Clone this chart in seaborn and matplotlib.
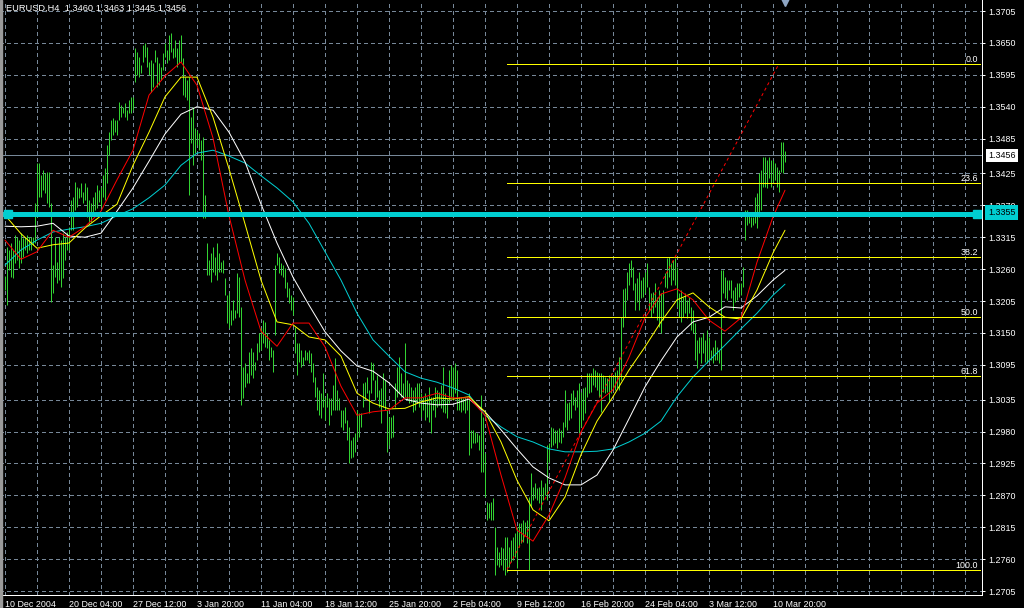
import numpy as np
import seaborn as sns
import matplotlib
matplotlib.use("Agg")
import matplotlib.pyplot as plt
from matplotlib import transforms

symbol = "EURUSD,H4"
last_ohlc = [1.3460, 1.3463, 1.3445, 1.3456]

# H4 bar highs / lows in pips (1/10000), bar 0 = 10 Dec 2004
high_pips = [
    13248, 13298, 13293, 13305, 13293, 13319, 13315, 13310, 13322, 13314,
    13315, 13319, 13315, 13315, 13315, 13374, 13443, 13443, 13422, 13431,
    13426, 13427, 13427, 13374, 13267, 13315, 13272, 13315, 13310, 13322,
    13315, 13324, 13333, 13379, 13384, 13410, 13402, 13400, 13408, 13393,
    13408, 13402, 13379, 13374, 13384, 13393, 13405, 13396, 13402, 13422,
    13434, 13474, 13496, 13517, 13521, 13517, 13517, 13548, 13543, 13540,
    13546, 13534, 13552, 13557, 13557, 13641, 13634, 13626, 13612, 13646,
    13650, 13643, 13617, 13621, 13615, 13638, 13626, 13615, 13608, 13633,
    13650, 13638, 13664, 13667, 13641, 13655, 13641, 13655, 13664, 13624,
    13591, 13586, 13591, 13522, 13540, 13503, 13500, 13495, 13483, 13488,
    13388, 13305, 13276, 13288, 13298, 13281, 13305, 13288, 13272, 13276,
    13245, 13215, 13219, 13189, 13207, 13189, 13253, 13246, 13195, 13091,
    13098, 13081, 13117, 13124, 13117, 13100, 13133, 13150, 13158, 13172,
    13169, 13150, 13138, 13126, 13121, 13267, 13288, 13281, 13271, 13267,
    13262, 13238, 13227, 13215, 13212, 13160, 13133, 13133, 13121, 13108,
    13121, 13117, 13121, 13115, 13098, 13074, 13057, 13052, 13046, 13081,
    13040, 13046, 13038, 13038, 13060, 13107, 13052, 13038, 13017, 13017,
    13022, 13000, 12988, 12965, 12971, 12977, 13017, 13012, 13012, 13064,
    13065, 13074, 13052, 13100, 13098, 13069, 13078, 13052, 13055, 13081,
    13069, 13017, 13005, 13005, 13009, 13064, 13091, 13108, 13081, 13064,
    13133, 13069, 13064, 13057, 13052, 13057, 13064, 13064, 13046, 13040,
    13046, 13040, 13057, 13040, 13040, 13057, 13052, 13048, 13060, 13091,
    13046, 13038, 13086, 13095, 13091, 13098, 13086, 13040, 13040, 13038,
    13040, 13040, 13046, 12983, 12983, 12979, 12977, 12974, 13043, 13005,
    12943, 12859, 12857, 12859, 12865, 12815, 12781, 12772, 12781, 12779,
    12798, 12798, 12781, 12793, 12798, 12805, 12815, 12822, 12822, 12828,
    12824, 12828, 12867, 12909, 12884, 12891, 12883, 12884, 12896, 12884,
    12891, 12957, 12960, 12988, 12986, 12983, 12983, 12986, 12983, 12996,
    13052, 13029, 13031, 13046, 13052, 13040, 13052, 13064, 13048, 13055,
    13057, 13081, 13081, 13081, 13090, 13086, 13083, 13081, 13081, 13078,
    13074, 13072, 13078, 13081, 13074, 13083, 13086, 13108, 13177, 13226,
    13227, 13255, 13271, 13276, 13264, 13236, 13245, 13255, 13241, 13246,
    13255, 13271, 13229, 13219, 13221, 13236, 13212, 13224, 13219, 13224,
    13253, 13279, 13281, 13271, 13276, 13279, 13264, 13219, 13224, 13212,
    13219, 13207, 13212, 13195, 13189, 13167, 13138, 13143, 13143, 13150,
    13138, 13155, 13143, 13121, 13126, 13138, 13126, 13121, 13259, 13259,
    13246, 13241, 13241, 13241, 13224, 13229, 13236, 13236, 13236, 13264,
    13362, 13362, 13357, 13350, 13350, 13384, 13391, 13426, 13431, 13453,
    13453, 13448, 13453, 13448, 13448, 13443, 13436, 13431, 13479, 13479,
    13463,
]
low_pips = [
    13224, 13198, 13259, 13246, 13245, 13271, 13276, 13262, 13271, 13281,
    13293, 13288, 13293, 13293, 13302, 13305, 13350, 13384, 13384, 13396,
    13391, 13374, 13367, 13203, 13219, 13246, 13236, 13241, 13229, 13245,
    13276, 13293, 13293, 13327, 13327, 13362, 13367, 13383, 13384, 13374,
    13379, 13350, 13340, 13341, 13357, 13362, 13365, 13376, 13367, 13384,
    13379, 13408, 13457, 13483, 13491, 13496, 13491, 13517, 13522, 13529,
    13522, 13517, 13529, 13529, 13534, 13583, 13595, 13591, 13598, 13617,
    13626, 13609, 13595, 13565, 13574, 13617, 13574, 13577, 13586, 13603,
    13626, 13615, 13621, 13634, 13624, 13626, 13609, 13615, 13617, 13560,
    13557, 13552, 13388, 13477, 13440, 13460, 13474, 13465, 13448, 13348,
    13348, 13250, 13250, 13238, 13255, 13250, 13241, 13255, 13255, 13253,
    13215, 13167, 13158, 13164, 13172, 13176, 13184, 13177, 13026, 13038,
    13057, 13064, 13064, 13078, 13072, 13086, 13103, 13117, 13121, 13133,
    13126, 13124, 13103, 13108, 13083, 13146, 13267, 13253, 13250, 13246,
    13227, 13212, 13202, 13189, 13181, 13115, 13078, 13100, 13091, 13095,
    13103, 13103, 13098, 13083, 13065, 13040, 13017, 13009, 13003, 13022,
    13000, 13022, 12991, 13009, 13017, 13017, 13017, 13017, 12988, 12983,
    12995, 12965, 12926, 12934, 12936, 12945, 12965, 12971, 12988, 13022,
    13034, 13046, 13012, 13046, 13069, 13034, 13040, 13022, 12995, 13022,
    13017, 12945, 12957, 12969, 12971, 13022, 13040, 13046, 13040, 13040,
    13040, 13034, 13029, 13031, 13014, 13017, 13029, 13022, 13005, 13017,
    13000, 13005, 12996, 12977, 13017, 13005, 13022, 13026, 13021, 13014,
    13012, 13003, 13029, 13040, 13034, 13046, 13017, 13017, 13014, 13017,
    13012, 13017, 12940, 12952, 12960, 12960, 12962, 12948, 12910, 12910,
    12867, 12828, 12831, 12828, 12828, 12733, 12750, 12746, 12750, 12741,
    12733, 12738, 12746, 12755, 12759, 12764, 12745, 12781, 12788, 12790,
    12802, 12788, 12741, 12850, 12862, 12865, 12862, 12857, 12845, 12862,
    12871, 12862, 12927, 12953, 12957, 12960, 12952, 12962, 12960, 12971,
    12988, 12983, 13000, 13003, 13026, 13017, 13022, 12977, 12988, 13000,
    13012, 13040, 13046, 13048, 13060, 13057, 13052, 13040, 13014, 13048,
    13046, 13048, 13031, 13046, 13055, 13052, 13055, 13052, 13069, 13160,
    13177, 13207, 13233, 13246, 13224, 13189, 13203, 13189, 13210, 13212,
    13219, 13229, 13189, 13177, 13184, 13195, 13172, 13160, 13150, 13172,
    13229, 13227, 13246, 13233, 13241, 13233, 13195, 13177, 13169, 13177,
    13184, 13176, 13184, 13155, 13150, 13103, 13090, 13115, 13098, 13115,
    13100, 13098, 13103, 13103, 13098, 13103, 13103, 13098, 13086, 13219,
    13210, 13207, 13224, 13210, 13189, 13203, 13207, 13212, 13215, 13229,
    13310, 13336, 13340, 13333, 13336, 13340, 13331, 13350, 13362, 13402,
    13402, 13400, 13417, 13402, 13410, 13414, 13402, 13393, 13427, 13426,
    13445,
]

# moving averages read every 8 bars (plus the last bar)
ma_bars = list(range(0, 392, 8)) + [390]
ma_red = [1.3310, 1.3277, 1.3290, 1.3327, 1.3315, 1.3333, 1.3360, 1.3414, 1.3465, 1.3560,
          1.3593, 1.3617, 1.3577, 1.3486, 1.3352, 1.3241, 1.3153, 1.3127, 1.3167, 1.3167,
          1.3126, 1.3058, 1.3008, 1.3014, 1.3017, 1.3038, 1.3038, 1.3046, 1.3038, 1.3038,
          1.3008, 1.2905, 1.2810, 1.2791, 1.2836, 1.2900, 1.2979, 1.3029, 1.3052, 1.3108,
          1.3176, 1.3217, 1.3226, 1.3207, 1.3172, 1.3153, 1.3176, 1.3272, 1.3350, 1.3396]
ma_yellow = [1.3353, 1.3321, 1.3296, 1.3302, 1.3305, 1.3331, 1.3352, 1.3372, 1.3439, 1.3496,
             1.3557, 1.3591, 1.3591, 1.3522, 1.3433, 1.3338, 1.3241, 1.3169, 1.3164, 1.3143,
             1.3138, 1.3110, 1.3046, 1.3029, 1.3019, 1.3020, 1.3031, 1.3038, 1.3036, 1.3040,
             1.3014, 1.2962, 1.2896, 1.2845, 1.2826, 1.2867, 1.2940, 1.2998, 1.3040, 1.3086,
             1.3126, 1.3169, 1.3207, 1.3219, 1.3195, 1.3177, 1.3174, 1.3224, 1.3288, 1.3327]
ma_white = [1.3334, 1.3333, 1.3334, 1.3339, 1.3317, 1.3315, 1.3322, 1.3360, 1.3400, 1.3446,
            1.3493, 1.3527, 1.3540, 1.3534, 1.3496, 1.3445, 1.3372, 1.3305, 1.3246, 1.3198,
            1.3152, 1.3119, 1.3093, 1.3084, 1.3064, 1.3036, 1.3029, 1.3026, 1.3027, 1.3036,
            1.3014, 1.2983, 1.2950, 1.2919, 1.2900, 1.2888, 1.2888, 1.2905, 1.2948, 1.3002,
            1.3057, 1.3102, 1.3143, 1.3169, 1.3177, 1.3195, 1.3193, 1.3214, 1.3241, 1.3258]
ma_cyan = [1.3267, 1.3293, 1.3310, 1.3324, 1.3329, 1.3333, 1.3339, 1.3352, 1.3364, 1.3383,
           1.3405, 1.3439, 1.3460, 1.3465, 1.3455, 1.3443, 1.3421, 1.3400, 1.3376, 1.3339,
           1.3290, 1.3241, 1.3184, 1.3138, 1.3110, 1.3083, 1.3072, 1.3065, 1.3055, 1.3043,
           1.3008, 1.2988, 1.2971, 1.2962, 1.2950, 1.2945, 1.2945, 1.2946, 1.2950, 1.2962,
           1.2977, 1.2998, 1.3040, 1.3074, 1.3102, 1.3129, 1.3157, 1.3184, 1.3215, 1.3234]

hline_price = 1.3355
fib_low = 1.2742
fib_high = 1.3614
fib_start_bar = 251
fib_end_bar = 387
fib_ratios = [0.0, 0.236, 0.382, 0.5, 0.618, 1.0]
fib_labels = ["0.0", "23.6", "38.2", "50.0", "61.8", "100.0"]

date_bars = list(range(0, 391, 32))
date_labels = ["10 Dec 2004", "20 Dec 04:00", "27 Dec 12:00", "3 Jan 20:00", "11 Jan 04:00",
               "18 Jan 12:00", "25 Jan 20:00", "2 Feb 04:00", "9 Feb 12:00", "16 Feb 20:00",
               "24 Feb 04:00", "3 Mar 12:00", "10 Mar 20:00"]
price_labels = ["1.3705", "1.3650", "1.3595", "1.3540", "1.3485", "1.3425", "1.3370",
                "1.3315", "1.3260", "1.3205", "1.3150", "1.3095", "1.3035", "1.2980",
                "1.2925", "1.2870", "1.2815", "1.2760", "1.2705"]

high = np.array(high_pips) / 10000
low = np.array(low_pips) / 10000
bars = np.arange(len(high))

sns.set_theme(style="dark", rc={"axes.facecolor": "black", "figure.facecolor": "black"})
plt.rcParams["font.family"] = ["Liberation Sans", "DejaVu Sans"]
plt.rcParams["lines.scale_dashes"] = False

GRID = "#778899"
BAR = "#32d232"
px = 0.72  # one pixel in points
dash = (0, (2.16, 2.16))

fig = plt.figure(figsize=(10.24, 6.08), dpi=100, facecolor="black")
ax = fig.add_axes([0, 13.5 / 608, 982 / 1024, 594.5 / 608])
ax.set_facecolor("black")
ax.set_xlim(-2.5, 488.5)
ax.set_ylim(1.2699, 1.3724)

price_ticks = [float(s) for s in price_labels]
for p in price_ticks:
    ax.axhline(p, color=GRID, lw=px, ls=dash, zorder=0, snap=True, antialiased=False)
for b in range(0, 481, 16):
    ax.axvline(b, color=GRID, lw=px, ls=dash, zorder=0, snap=True, antialiased=False)

# bid line
ax.axhline(last_ohlc[3], color=GRID, lw=px, zorder=1, snap=True, antialiased=False)

# bars
ax.vlines(bars, low, high, color=BAR, lw=px, zorder=2, snap=True)

# moving averages
for vals, col in [(ma_cyan, "#00ced1"), (ma_white, "white"), (ma_yellow, "yellow"), (ma_red, "red")]:
    sns.lineplot(x=ma_bars, y=vals, color=col, linewidth=px, ax=ax, legend=False, zorder=3)

# fibonacci retracement
right_bar = ax.get_xlim()[1] - 1
lbl_off = transforms.offset_copy(ax.transData, fig=fig, x=-2, y=2, units="dots")
for r, lab in zip(fib_ratios, fib_labels):
    lvl = fib_high - r * (fib_high - fib_low)
    ax.plot([fib_start_bar, right_bar], [lvl, lvl], color="yellow", lw=px, zorder=4,
            snap=True, antialiased=False)
    ax.text(right_bar, lvl, lab, color="white", fontsize=6.4, ha="right", va="baseline",
            transform=lbl_off, zorder=5)
ax.plot([fib_start_bar, fib_end_bar], [fib_low, fib_high], color="red", lw=px,
        ls=(0, (2.2, 2.2)), zorder=4)

# horizontal line object
ax.axhline(hline_price, color="#00ced1", lw=3.3, zorder=5, antialiased=False)
ax.plot([1.5, ax.get_xlim()[1] - 2.5], [hline_price, hline_price], ls="none", marker="s",
        ms=6.2, color="#00ced1", zorder=6, clip_on=False)

# chart shift marker
ax.plot([bars[-1]], [ax.get_ylim()[1] - 0.0003], marker="v", ms=6, color="#8fa6c4",
        ls="none", clip_on=False, zorder=6)

ax.yaxis.tick_right()
ax.set_yticks(price_ticks)
ax.set_yticklabels(price_labels)
ax.set_xticks(date_bars)
ax.set_xticklabels(date_labels, ha="left")
ax.tick_params(axis="y", direction="out", length=2.2, width=px, pad=2.4,
               colors="white", labelsize=6.4)
ax.tick_params(axis="x", direction="out", length=2.9, width=px, pad=0.9,
               colors="white", labelsize=6.4)
ax.grid(False)
for side in ["left", "top"]:
    ax.spines[side].set_visible(False)
for side in ["right", "bottom"]:
    ax.spines[side].set_color("white")
    ax.spines[side].set_linewidth(px)

# price boxes on the scale
fig.text(988 / 1024, 1 - 155.5 / 608, "%.4f" % last_ohlc[3], color="black", fontsize=6.4,
         ha="left", va="center",
         bbox=dict(boxstyle="square,pad=0.25", fc="white", ec="none"))
fig.text(988 / 1024, 1 - 212.5 / 608, "%.4f" % hline_price, color="black", fontsize=6.4,
         ha="left", va="center",
         bbox=dict(boxstyle="square,pad=0.3", fc="#00ced1", ec="none"))

# header
header = symbol + "  " + " ".join("%.4f" % v for v in last_ohlc)
fig.text(6 / 1024, 1 - 8 / 608, header, color="white", fontsize=6.7, ha="left", va="center")

# window border
fig.patches.append(plt.Rectangle((0, 0), 2 / 1024, 1, transform=fig.transFigure,
                                 color="#9a9a9a", zorder=10))

fig.savefig("out.png", dpi=100, facecolor="black")
